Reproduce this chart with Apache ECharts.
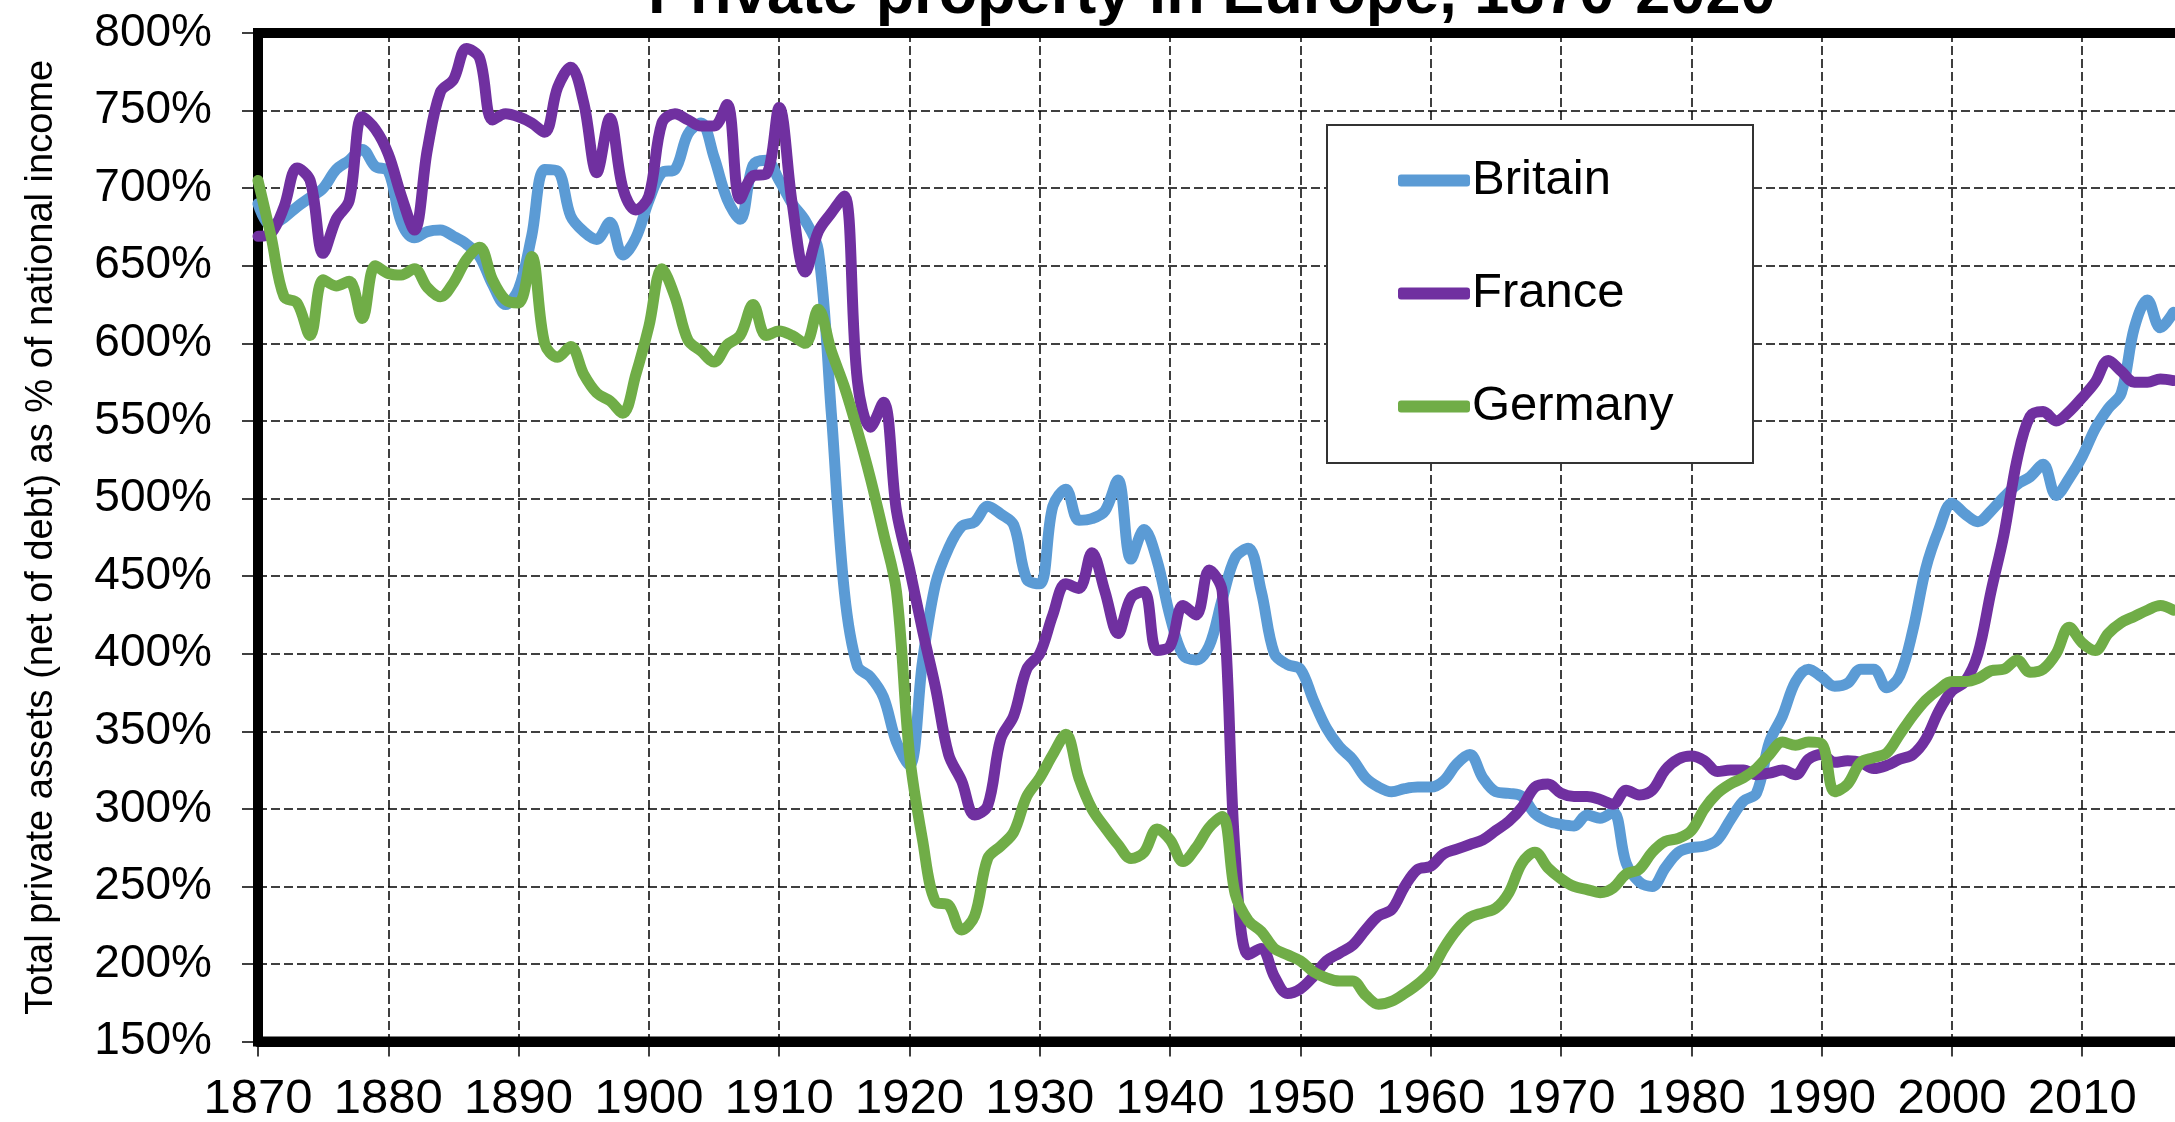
<!DOCTYPE html>
<html>
<head>
<meta charset="utf-8">
<script src="https://cdn.jsdelivr.net/npm/echarts@6/dist/echarts.min.js"></script>
<style>
html,body{margin:0;padding:0;background:#fff;}
#chart{width:2175px;height:1122px;}
</style>
</head>
<body>
<div id="chart"></div>
<script>
// Values: total private assets (net of debt) as % of national income, 1870-2017
const startYear = 1870;
const seriesNames = ['Britain', 'France', 'Germany'];
const britain = [
  690,676,681,688,694,700,712,718,725,714,
  711,678,668,672,673,669,664,656,638,625,
  635,669,712,711,682,672,667,678,657,668,
  692,710,712,735,742,720,693,680,715,718,
  705,690,679,660,555,440,392,385,372,343,
  328,395,445,468,482,485,495,490,483,448,
  445,495,506,486,487,492,512,461,480,460,
  424,399,396,405,435,462,468,440,400,393,
  390,370,352,340,332,320,314,311,313,314,
  314,318,329,335,320,311,310,308,297,292,
  290,289,296,294,298,265,253,250,262,272,
  275,276,280,293,305,310,343,360,382,390,
  385,379,381,390,390,378,386,415,455,480,
  497,490,485,492,501,509,514,522,502,513,
  527,545,558,568,610,628,610,620
];
const france = [
  669,671,688,713,705,658,680,692,746,738,
  722,695,673,725,762,770,790,784,744,748,
  746,742,736,765,778,755,710,745,700,686,
  695,742,748,744,740,740,754,693,708,709,
  752,690,646,672,684,695,576,546,562,492,
  455,415,378,335,318,296,302,345,360,390,
  400,425,445,442,465,440,413,436,440,402,
  405,431,425,454,440,270,206,210,192,181,
  184,192,202,207,212,222,231,235,250,261,
  263,271,274,277,280,286,292,301,314,316,
  310,308,308,306,303,312,309,312,325,332,
  334,331,324,325,325,322,323,325,322,332,
  335,330,331,330,326,328,332,335,345,363,
  376,382,400,440,477,525,553,556,550,556,
  565,575,589,582,575,575,577,576
];
const germany = [
  705,669,630,626,605,641,637,640,616,650,
  645,644,648,636,630,639,654,662,641,628,
  626,656,600,591,598,580,568,563,555,580,
  611,648,630,602,595,588,599,605,625,605,
  608,605,600,622,595,572,544,513,478,440,
  335,280,240,238,222,231,268,276,285,308,
  320,335,348,320,300,288,277,268,272,287,
  280,266,275,288,295,245,228,221,210,206,
  202,195,191,189,189,180,174,176,181,187,
  195,210,222,230,233,236,246,265,272,262,
  255,250,248,246,249,258,261,272,279,281,
  286,300,310,316,320,326,335,343,341,343,
  342,311,316,330,333,336,348,360,370,377,
  382,382,384,389,390,396,388,390,400,417,
  407,402,413,420,424,428,431,428
];
const seriesValues = [britain, france, germany];
const seriesColors = ['#5B9BD5', '#7030A0', '#70AD47'];
const years = britain.map((_, i) => startYear + i);

const FONT = '"Liberation Sans", Arial, Helvetica, sans-serif';

const chart = echarts.init(document.getElementById('chart'), null, {renderer: 'canvas'});
chart.setOption({
  animation: false,
  backgroundColor: '#ffffff',
  title: {
    text: 'Private property in Europe, 1870-2020',
    left: 648,
    top: -36,
    padding: 0,
    textStyle: {fontSize: 63, fontWeight: 'bold', color: '#000', fontFamily: FONT}
  },
  graphic: [{
    type: 'rect',
    z: 3,
    shape: {x: 1327, y: 125, width: 426, height: 338},
    style: {fill: '#ffffff', stroke: '#333333', lineWidth: 2}
  }],
  legend: {
    data: seriesNames,
    orient: 'vertical',
    left: 1398,
    top: 156,
    padding: 0,
    itemWidth: 72,
    itemHeight: 12,
    itemGap: 64,
    icon: 'roundRect',
    z: 5,
    textStyle: {fontSize: 49, color: '#000', fontFamily: FONT, padding: [0, 0, 0, -3]}
  },
  grid: {
    left: 258, top: 33, right: -37.5, bottom: 80.4,
    outerBoundsMode: 'none',
    containLabel: false,
    show: true, borderColor: '#000', borderWidth: 10, backgroundColor: 'transparent'
  },
  xAxis: {
    type: 'value', min: 1870, max: 2020, interval: 10,
    axisLine: {lineStyle: {color: '#000', width: 10}},
    axisTick: {length: 15, lineStyle: {color: '#000', width: 1.5}},
    axisLabel: {fontSize: 49, margin: 33, color: '#000', fontFamily: FONT,
      showMaxLabel: false, formatter: v => String(v)},
    splitLine: {show: true, lineStyle: {color: '#000', width: 1.5, type: [9, 4]}}
  },
  yAxis: {
    type: 'value', min: 150, max: 800, interval: 50,
    name: 'Total private assets (net of debt) as % of national income',
    nameLocation: 'middle', nameRotate: 90, nameGap: 197,
    nameTextStyle: {fontSize: 38, color: '#000', fontFamily: FONT},
    axisLine: {show: true, lineStyle: {color: '#000', width: 10}},
    axisTick: {show: true, length: 16, lineStyle: {color: '#000', width: 1.5}},
    axisLabel: {fontSize: 46, margin: 46, color: '#000', fontFamily: FONT, formatter: '{value}%'},
    splitLine: {show: true, lineStyle: {color: '#000', width: 1.5, type: [9, 4]}}
  },
  series: seriesNames.map((name, k) => ({
    name: name,
    type: 'line',
    smooth: 0.35,
    showSymbol: false,
    symbol: 'none',
    z: 2 + k * 0.1,
    color: seriesColors[k],
    lineStyle: {width: 11, color: seriesColors[k], cap: 'round', join: 'round'},
    data: years.map((y, i) => [y, seriesValues[k][i]])
  }))
});
</script>
</body>
</html>
